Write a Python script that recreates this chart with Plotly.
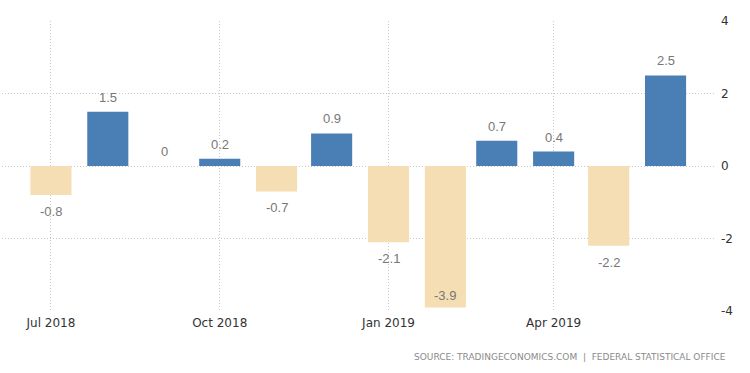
import plotly.graph_objects as go

months = ["2018-07-01", "2018-08-01", "2018-09-01", "2018-10-01", "2018-11-01", "2018-12-01",
          "2019-01-01", "2019-02-01", "2019-03-01", "2019-04-01", "2019-05-01", "2019-06-01"]
values = [-0.8, 1.5, 0, 0.2, -0.7, 0.9, -2.1, -3.9, 0.7, 0.4, -2.2, 2.5]
tick_dates = ["2018-07-01", "2018-10-01", "2019-01-01", "2019-04-01"]
tick_labels = ["Jul 2018", "Oct 2018", "Jan 2019", "Apr 2019"]
y_ticks = [-4, -2, 0, 2, 4]
y_tick_labels = ["-4", "-2", "0", "2", "4"]

POS = "#4a7fb5"
NEG = "#f5deb3"
colors = [POS if v >= 0 else NEG for v in values]

fig = go.Figure()
fig.add_trace(go.Bar(
    x=months, y=values,
    marker=dict(color=colors, line=dict(width=0)),
    width=22.4 * 86400000,
    showlegend=False,
    hoverinfo="x+y",
))

label_font = dict(family="Liberation Sans, Arial", size=13, color="#777777")
annotations = []
for m, v in zip(months, values):
    if v >= 0:
        annotations.append(dict(x=m, y=v, xref="x", yref="y", text=f"{v:g}", showarrow=False,
                                xanchor="center", yanchor="bottom", yshift=5, font=label_font))
    elif v < -3.5:
        annotations.append(dict(x=m, y=v, xref="x", yref="y", text=f"{v:g}", showarrow=False,
                                xanchor="center", yanchor="bottom", yshift=2, font=label_font))
    else:
        annotations.append(dict(x=m, y=v, xref="x", yref="y", text=f"{v:g}", showarrow=False,
                                xanchor="center", yanchor="top", yshift=-7, font=label_font))

for t, lab in zip(y_ticks, y_tick_labels):
    annotations.append(dict(x=1, y=t, xref="paper", yref="y", text=lab, showarrow=False,
                            xanchor="left", yanchor="middle", xshift=3,
                            font=dict(family="DejaVu Sans", size=12, color="#333333")))

annotations.append(dict(
    text="SOURCE: TRADINGECONOMICS.COM  |  FEDERAL STATISTICAL OFFICE",
    xref="paper", yref="paper", x=1.0, y=0, xanchor="right", yanchor="middle",
    xshift=12, yshift=-46, showarrow=False,
    font=dict(family="DejaVu Sans", size=9, color="#8a8a8a"),
))

fig.update_layout(
    width=750, height=373,
    margin=dict(l=2, r=34, t=21, b=62),
    paper_bgcolor="white", plot_bgcolor="white",
    xaxis=dict(
        type="date",
        range=["2018-06-04 08:00", "2019-06-28 12:00"],
        tickvals=tick_dates, ticktext=tick_labels,
        showgrid=True, gridcolor="#c8c8c8", griddash="1px,2px", gridwidth=1,
        zeroline=False, showline=False, ticks="",
        ticklabelstandoff=3,
        tickfont=dict(family="DejaVu Sans", size=12, color="#333333"),
    ),
    yaxis=dict(
        side="right", range=[-4, 4],
        tickvals=y_ticks, showticklabels=False,
        showgrid=True, gridcolor="#c8c8c8", griddash="1px,2px", gridwidth=1,
        zeroline=False, showline=False, ticks="",
    ),
    annotations=annotations,
)

fig.write_html("out.html", config={"displayModeBar": False},
               post_script="document.body.style.margin='0';")
